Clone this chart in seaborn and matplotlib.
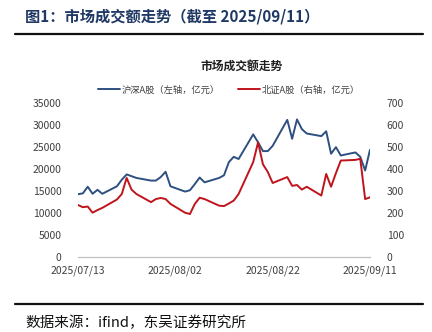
import matplotlib
matplotlib.use("Agg")
import matplotlib.pyplot as plt
import matplotlib.dates as mdates
from matplotlib.lines import Line2D
import pandas as pd
import seaborn as sns

sns.set_theme(style="white")
plt.rcParams['font.family'] = ['Noto Sans CJK SC', 'DejaVu Sans']
plt.rcParams['axes.unicode_minus'] = False

dates = ["2025-07-13", "2025-07-14", "2025-07-15", "2025-07-16", "2025-07-17", "2025-07-18",
         "2025-07-21", "2025-07-22", "2025-07-23", "2025-07-24", "2025-07-25",
         "2025-07-28", "2025-07-29", "2025-07-30", "2025-07-31", "2025-08-01",
         "2025-08-04", "2025-08-05", "2025-08-06", "2025-08-07", "2025-08-08",
         "2025-08-11", "2025-08-12", "2025-08-13", "2025-08-14", "2025-08-15",
         "2025-08-18", "2025-08-19", "2025-08-20", "2025-08-21", "2025-08-22",
         "2025-08-25", "2025-08-26", "2025-08-27", "2025-08-28", "2025-08-29",
         "2025-09-01", "2025-09-02", "2025-09-03", "2025-09-04", "2025-09-05",
         "2025-09-08", "2025-09-09", "2025-09-10", "2025-09-11"]

hs_a = [14200, 14400, 15900, 14300, 15200, 14300,
        16000, 17500, 18700, 18300, 17900,
        17300, 17300, 18100, 19300, 16000,
        14800, 15100, 16500, 18000, 16900,
        17900, 18500, 21500, 22700, 22200,
        27800, 26000, 24000, 24000, 25200,
        31100, 26800, 31200, 29000, 28000,
        27400, 28500, 23400, 24900, 23000,
        23700, 22700, 19600, 24300]

bz_a = [235, 225, 228, 200, 212, 222,
        260, 285, 358, 305, 285,
        248, 262, 267, 262, 240,
        200, 194, 240, 268, 262,
        232, 230, 242, 255, 285,
        430, 520, 420, 385, 335,
        362, 322, 326, 305, 318,
        278, 376, 318, 380, 437,
        440, 445, 262, 270]

label_hs = "沪深A股（左轴，亿元）"
label_bz = "北证A股（右轴，亿元）"
x_ticks = ["2025-07-13", "2025-08-02", "2025-08-22", "2025-09-11"]
left_ticks = [0, 5000, 10000, 15000, 20000, 25000, 30000, 35000]
right_ticks = [0, 100, 200, 300, 400, 500, 600, 700]

df = pd.DataFrame({"date": pd.to_datetime(dates), "hs": hs_a, "bz": bz_a})

blue = "#2E5080"
red = "#C0141C"

fig = plt.figure(figsize=(4.32, 3.32), dpi=100)
ax = fig.add_axes([78/432, 1-256.7/332, 292/432, 154/332])
ax2 = ax.twinx()

sns.lineplot(data=df, x="date", y="hs", ax=ax, color=blue, linewidth=1.4, legend=False)
sns.lineplot(data=df, x="date", y="bz", ax=ax2, color=red, linewidth=1.4, legend=False)

ax.set_xlim(pd.Timestamp(x_ticks[0]), pd.Timestamp(x_ticks[-1]))
ax.set_ylim(0, 35000)
ax2.set_ylim(0, 700)
ax.set_xticks(pd.to_datetime(x_ticks))
ax.xaxis.set_major_formatter(mdates.DateFormatter("%Y/%m/%d"))
ax.set_yticks(left_ticks)
ax2.set_yticks(right_ticks)
ax.set_xlabel("")
ax.set_ylabel("")
ax2.set_ylabel("")

for a in (ax, ax2):
    for s in ("top", "left", "right"):
        a.spines[s].set_visible(False)
    a.spines["bottom"].set_color("#BFBFBF")
    a.spines["bottom"].set_linewidth(0.8)
    a.grid(False)
    a.set_facecolor("none")

ax.tick_params(axis="x", direction="out", length=3, width=0.8, color="#BFBFBF",
               labelsize=7.5, labelcolor="#404040", pad=3)
ax.tick_params(axis="y", length=0, labelsize=7.5, labelcolor="#404040", pad=12)
ax2.tick_params(axis="y", length=0, labelsize=7.5, labelcolor="#404040", pad=12)

handles = [Line2D([], [], color=blue, linewidth=1.4), Line2D([], [], color=red, linewidth=1.4)]
fig.legend(handles, [label_hs, label_bz], loc="center", bbox_to_anchor=(229/432, 1-90/332),
           ncol=2, frameon=False, fontsize=6.7, handlelength=2.3, handletextpad=0.2,
           columnspacing=2.0, labelcolor="#404040")

fig.text(242/432, 1-66/332, "市场成交额走势", ha="center", va="center", fontsize=8.5,
         fontweight="bold", color="#202020")

fig.text(25/432, 1-16/332, "图1：市场成交额走势（截至 2025/09/11）", ha="left", va="center",
         fontsize=11, fontweight="bold", color="#1F3864")
fig.add_artist(Line2D([15/432, 423/432], [1-33.7/332, 1-33.7/332], color="#111111", linewidth=1.6))
fig.add_artist(Line2D([15/432, 423/432], [1-304/332, 1-304/332], color="#111111", linewidth=1.6))
fig.text(25/432, 1-323/332, "数据来源：ifind，东吴证券研究所", ha="left", va="center",
         fontsize=10.5, color="#111111")

fig.savefig("out.png", dpi=100)
